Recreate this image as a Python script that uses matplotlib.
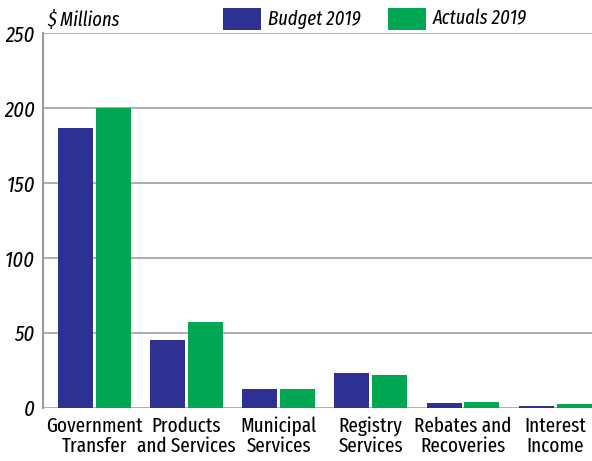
import matplotlib
matplotlib.use("Agg")
import matplotlib.pyplot as plt
import numpy as np
from matplotlib.patches import Rectangle

categories = ["Government\nTransfer", "Products\nand Services", "Municipal\nServices",
              "Registry\nServices", "Rebates and\nRecoveries", "Interest\nIncome"]
budget_2019 = [186.7, 45.5, 12.9, 23.5, 3.5, 1.0]
actuals_2019 = [199.8, 57.5, 12.9, 22.2, 4.2, 2.9]
yticks = [0, 50, 100, 150, 200, 250]
series_names = ["Budget 2019", "Actuals 2019"]
series_colors = ["#2e3192", "#00a651"]

FONT = ["Fira Sans Extra Condensed", "DejaVu Sans"]
plt.rcParams['font.family'] = FONT

W, H = 592, 461
fig = plt.figure(figsize=(W / 100, H / 100), dpi=100)
ax = fig.add_axes([0.073, 0.115, 0.927, 0.813])

x = np.arange(len(categories))
w = 0.38
off = 0.205
ax.bar(x - off, budget_2019, w, color=series_colors[0], zorder=3)
ax.bar(x + off, actuals_2019, w, color=series_colors[1], zorder=3)

ax.set_xlim(-0.553, 5.40)
ax.set_ylim(0, 250)
ax.set_yticks(yticks)
ax.set_yticklabels([str(v) for v in yticks], fontsize=16, style="italic")
ax.set_xticks(x)
ax.set_xticklabels(categories, fontsize=15, linespacing=1.05)
ax.tick_params(length=0, pad=6)
ax.tick_params(axis='y', pad=6)
ax.yaxis.grid(True, color="#a0a0a0", linewidth=1.2, zorder=0)
for s in ["top", "right", "bottom"]:
    ax.spines[s].set_visible(False)
ax.spines["left"].set_color("#999999")
ax.spines["left"].set_linewidth(1.5)

fig.text(47 / W, 1 - 20 / H, "\\$ Millions", fontsize=14.5, style="italic",
         va="center", ha="left")

# legend (manual, to match placement)
sw_x = [223, 388]
for name, col, sx in zip(series_names, series_colors, sw_x):
    fig.add_artist(Rectangle((sx / W, 1 - 30 / H), 38 / W, 22 / H,
                             transform=fig.transFigure, color=col, lw=0))
    fig.text((sx + 45) / W, 1 - 19 / H, name, fontsize=14.5, style="italic",
             va="center", ha="left")

fig.savefig("out.png", dpi=100)
